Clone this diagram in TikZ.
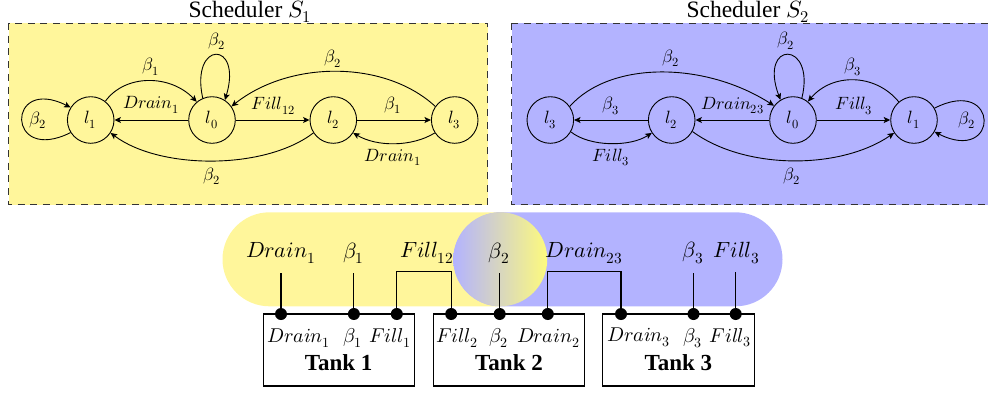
\documentclass[tikz,border=0pt]{standalone}
\usepackage{fontspec}
\setmainfont{Liberation Serif}
\usepackage{unicode-math}
\setmathfont{Latin Modern Math}
\usetikzlibrary{arrows.meta,backgrounds}
\definecolor{ylw}{RGB}{255,246,155}
\definecolor{ylwb}{RGB}{253,250,125}
\definecolor{blu}{RGB}{179,179,255}
\newcommand{\lab}[1]{\fontsize{17.8}{19}\selectfont$#1$}
\newcommand{\mlab}[1]{\fontsize{20}{22}\selectfont$#1$}
\newcommand{\tlab}[1]{\fontsize{22}{24}\selectfont$#1$}
\tikzset{
  x=1pt,y=-1pt,
  st/.style={draw,circle,line width=0.9pt,minimum size=46.6pt,inner sep=0pt,font=\fontsize{17.8}{19}\selectfont},
  conn/.style={line width=0.9pt,-{Stealth[length=6.5pt,width=6pt,inset=1.5pt]}},
  frame/.style={draw=black!80,dash pattern=on 7pt off 5.7pt,line width=1pt},
  tank/.style={draw,line width=1.1pt,rectangle},
  dot/.style={circle,fill=black,minimum size=12pt,inner sep=0pt},
  wire/.style={line width=1.1pt},
  ttl/.style={font=\fontsize{23.5}{25}\selectfont,inner sep=0pt,anchor=base},
  tk/.style={font=\fontsize{23}{25}\selectfont\bfseries}
}
\begin{document}
\begin{tikzpicture}
\useasboundingbox (0,0) rectangle (988,392);
\begin{scope}
\clip (0,0) rectangle (988,392);
% frames
\node[ttl] (t1) at (250,17) {Scheduler $S_1$};
\node[ttl] (t2) at (748,17) {Scheduler $S_2$};
\path[frame,fill=ylw] (8.5,23) rectangle (487.7,204.5);
\path[frame,fill=blu] (511.5,23) rectangle (1000,204.5);
% S1 states
\node[st] (a1) at (90.7,120) {$l_1$};
\node[st] (a0) at (212,120) {$l_0$};
\node[st] (a2) at (333.3,120) {$l_2$};
\node[st] (a3) at (454.7,120) {$l_3$};
\draw[conn] (a0) -- (a1);
\draw[conn] (a0) -- (a2);
\draw[conn] (a2) -- (a3);
\draw[conn] (a1.212) .. controls (6,165) and (6,75) .. (a1.148);
\draw[conn] (a1.52) .. controls (125,74) and (170,74) .. (a0.130);
\draw[conn] (a0.113) .. controls (190,40) and (243,40) .. (a0.57);
\draw[conn] (a3.145) .. controls (385,60) and (290,60) .. (a0.35);
\draw[conn] (a2.213) .. controls (265,170) and (160,170) .. (a1.-33);
\draw[conn] (a3.213) .. controls (412,147) and (377,147) .. (a2.-33);
\node (a_b1) at (37.7,120) {\lab{\beta_2}};
\node (a_b2) at (150.7,66.7) {\lab{\beta_1}};
\node (a_d1) at (151.3,105) {\lab{Drain_1}};
\node (a_b3) at (216.7,41.3) {\lab{\beta_2}};
\node (a_b4) at (333.3,58.7) {\lab{\beta_2}};
\node (a_f) at (273.3,106) {\lab{Fill_{12}}};
\node (a_b5) at (393.3,105.3) {\lab{\beta_1}};
\node (a_d2) at (393,157.7) {\lab{Drain_1}};
\node (a_b6) at (212,176) {\lab{\beta_2}};
% S2 states
\node[st] (b3) at (550.3,120) {$l_3$};
\node[st] (b2) at (671.7,120) {$l_2$};
\node[st] (b0) at (793,120) {$l_0$};
\node[st] (b1) at (914,120) {$l_1$};
\draw[conn] (b2) -- (b3);
\draw[conn] (b0) -- (b2);
\draw[conn] (b0) -- (b1);
\draw[conn] (b0.68) .. controls (816,40) and (758,40) .. (b0.122);
\draw[conn] (b3.35) .. controls (610,61) and (704,61) .. (b0.143);
\draw[conn] (b1.130) .. controls (875,73) and (832,73) .. (b0.51);
\draw[conn] (b2.-29) .. controls (745,170) and (840,170) .. (b1.213);
\draw[conn] (b3.-30) .. controls (590,147) and (630,147) .. (b2.213);
\draw[conn] (b1.30) .. controls (1000,75) and (1000,165) .. (b1.-30);
\node (b_b1) at (785.7,40.7) {\lab{\beta_2}};
\node (b_b2) at (853.3,66.7) {\lab{\beta_3}};
\node (b_b3) at (671.3,58.3) {\lab{\beta_2}};
\node (b_b4) at (610.7,106) {\lab{\beta_3}};
\node (b_d) at (732.7,105.3) {\lab{Drain_{23}}};
\node (b_f1) at (854,106) {\lab{Fill_3}};
\node (b_b5) at (966.7,120) {\lab{\beta_2}};
\node (b_f2) at (610.7,157.7) {\lab{Fill_3}};
\node (b_b6) at (792.3,176) {\lab{\beta_2}};
% stadiums
\fill[ylw,rounded corners=47pt] (222.5,212.3) rectangle (547,306.3);
\fill[blu,rounded corners=47pt] (453.5,212.3) rectangle (782.5,306.3);
\begin{scope}
\clip (500.25,259.3) circle[radius=47];
\shade[left color=blu,right color=ylwb] (453.25,212) rectangle (547.25,307);
\end{scope}
% tanks
\node[tank,minimum width=151.5pt,minimum height=72pt] (k1) at (338.8,350) {};
\node[tank,minimum width=151.5pt,minimum height=72pt] (k2) at (509,350) {};
\node[tank,minimum width=151.5pt,minimum height=72pt] (k3) at (678.5,350) {};
\node[tk] (n1) at (338.7,363) {Tank 1};
\node[tk] (n2) at (509,363) {Tank 2};
\node[tk] (n3) at (678.4,363) {Tank 3};
% ports
\node[dot] (d1) at (281,314) {};
\node[dot] (d2) at (353.9,314) {};
\node[dot] (d3) at (396.8,314) {};
\node[dot] (d4) at (451.2,314) {};
\node[dot] (d5) at (499.7,314) {};
\node[dot] (d6) at (547.8,314) {};
\node[dot] (d7) at (621,314) {};
\node[dot] (d8) at (693.5,314) {};
\node[dot] (d9) at (735.7,314) {};
\coordinate (w1) at (281,273.3);
\coordinate (w2) at (353.9,273.3);
\coordinate (u3) at (396.8,271.3);
\coordinate (u4) at (451.2,271.3);
\coordinate (w5) at (499.7,273.3);
\coordinate (u6) at (547.8,271.3);
\coordinate (u7) at (621,271.3);
\coordinate (w8) at (693.5,273.3);
\coordinate (w9) at (735.7,271.5);
\draw[wire] (d1) -- (w1);
\draw[wire] (d2) -- (w2);
\draw[wire] (d3) -- (u3) -- (u4) -- (d4);
\draw[wire] (d5) -- (w5);
\draw[wire] (d6) -- (u6) -- (u7) -- (d7);
\draw[wire] (d8) -- (w8);
\draw[wire] (d9) -- (w9);
% top labels
\node (c1) at (281,253) {\tlab{Drain_1}};
\node (c2) at (353.5,253) {\tlab{\beta_1}};
\node (c3) at (427,253) {\tlab{Fill_{12}}};
\node (c4) at (499.3,253) {\tlab{\beta_2}};
\node (c5) at (584.4,253) {\tlab{Drain_{23}}};
\node (c6) at (693,253) {\tlab{\beta_3}};
\node (c7) at (736.5,253) {\tlab{Fill_3}};
% tank labels
\node (e1) at (299,337.7) {\mlab{Drain_1}};
\node (e2) at (353,337.7) {\mlab{\beta_1}};
\node (e3) at (390,337.7) {\mlab{Fill_1}};
\node (e4) at (457,337.7) {\mlab{Fill_2}};
\node (e5) at (498.6,337.7) {\mlab{\beta_2}};
\node (e6) at (548.5,337.7) {\mlab{Drain_2}};
\node (e7) at (639,337.7) {\mlab{Drain_3}};
\node (e8) at (692.8,337.7) {\mlab{\beta_3}};
\node (e9) at (730.5,337.7) {\mlab{Fill_3}};
\end{scope}
\end{tikzpicture}
\end{document}
